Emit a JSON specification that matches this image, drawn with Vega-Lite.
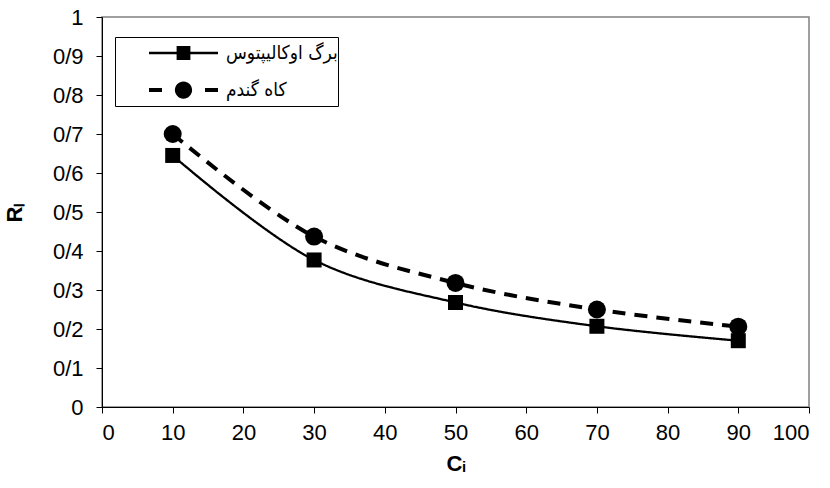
{
  "$schema": "https://vega.github.io/schema/vega-lite/v6.json",
  "autosize": {"type": "none"},
  "width": 707,
  "height": 390,
  "padding": {"left": 102, "top": 17, "right": 21, "bottom": 81},
  "background": "white",
  "config": {
    "view": {"stroke": "#808080", "strokeWidth": 1.5},
    "axis": {
      "grid": false,
      "domainColor": "black",
      "domainWidth": 1,
      "tickColor": "black",
      "tickWidth": 1,
      "tickSize": 6,
      "labelFont": "Liberation Sans",
      "labelFontSize": 22,
      "labelColor": "black",
      "titleFont": "Liberation Sans",
      "titleFontSize": 22,
      "titleFontWeight": "bold",
      "titleColor": "black"
    }
  },
  "data": {
    "values": [
      {"Ci": 10, "RL": 0.645, "series": "برگ اوکالیپتوس"},
      {"Ci": 30, "RL": 0.377, "series": "برگ اوکالیپتوس"},
      {"Ci": 50, "RL": 0.268, "series": "برگ اوکالیپتوس"},
      {"Ci": 70, "RL": 0.207, "series": "برگ اوکالیپتوس"},
      {"Ci": 90, "RL": 0.170, "series": "برگ اوکالیپتوس"},
      {"Ci": 10, "RL": 0.700, "series": "کاه گندم"},
      {"Ci": 30, "RL": 0.437, "series": "کاه گندم"},
      {"Ci": 50, "RL": 0.318, "series": "کاه گندم"},
      {"Ci": 70, "RL": 0.250, "series": "کاه گندم"},
      {"Ci": 90, "RL": 0.206, "series": "کاه گندم"}
    ]
  },
  "encoding": {
    "x": {
      "field": "Ci", "type": "quantitative",
      "scale": {"domain": [0, 100], "nice": false, "zero": false},
      "axis": {"values": [0,10,20,30,40,50,60,70,80,90,100], "title": "Cᵢ", "labelPadding": 9, "titlePadding": 10}
    },
    "y": {
      "field": "RL", "type": "quantitative",
      "scale": {"domain": [0, 1], "nice": false},
      "axis": {
        "values": [0,0.1,0.2,0.3,0.4,0.5,0.6,0.7,0.8,0.9,1],
        "labelExpr": "datum.value == 0 ? '0' : datum.value == 1 ? '1' : replace(format(datum.value, '.1f'), '.', '/')",
        "title": "Rₗ",
        "labelPadding": 13,
        "titlePadding": 26
      }
    }
  },
  "layer": [
    {
      "mark": {"type": "line", "interpolate": "catmull-rom", "color": "black"},
      "encoding": {
        "detail": {"field": "series"},
        "strokeDash": {"condition": {"test": "datum.series === 'کاه گندم'", "value": [13, 9]}, "value": [1, 0]},
        "strokeWidth": {"condition": {"test": "datum.series === 'کاه گندم'", "value": 4}, "value": 2.3}
      }
    },
    {
      "mark": {"type": "point", "filled": true, "color": "black", "opacity": 1},
      "encoding": {
        "shape": {
          "field": "series", "type": "nominal",
          "scale": {"domain": ["برگ اوکالیپتوس", "کاه گندم"], "range": ["square", "circle"]},
          "legend": null
        },
        "size": {"condition": {"test": "datum.series === 'کاه گندم'", "value": 324}, "value": 225}
      }
    },
    {
      "transform": [{"filter": "datum.Ci < 0"}],
      "mark": {"type": "point", "filled": true, "color": "black"},
      "encoding": {
        "shape": {
          "field": "series", "type": "nominal",
          "scale": {
            "domain": ["برگ اوکالیپتوس", "کاه گندم"],
            "range": [
              "M-1,-0.033H1V0.033H-1Z M-0.2,-0.2H0.2V0.2H-0.2Z",
              "M-1,-0.055H-0.623V0.055H-1Z M0.623,-0.055H1V0.055H0.623Z M0.25,0A0.25,0.25 0 1,1 -0.25,0A0.25,0.25 0 1,1 0.25,0Z"
            ]
          },
          "legend": {
            "orient": "none",
            "legendX": 13,
            "legendY": 20,
            "direction": "vertical",
            "title": null,
            "symbolSize": 4761,
            "clipHeight": 32,
            "rowPadding": 5,
            "padding": 0,
            "symbolOffset": 34,
            "labelOffset": 8,
            "labelFont": "DejaVu Sans Condensed",
            "labelFontSize": 19,
            "labelColor": "black",
            "labelLimit": 300,
            "strokeColor": "black",
            "fillColor": "white",
            "symbolStrokeWidth": 0,
            "symbolFillColor": "black",
            "symbolStrokeColor": "black",
            "symbolOpacity": 1
          }
        }
      }
    }
  ],
  "resolve": {"scale": {"shape": "independent"}, "legend": {"shape": "independent"}}
}
